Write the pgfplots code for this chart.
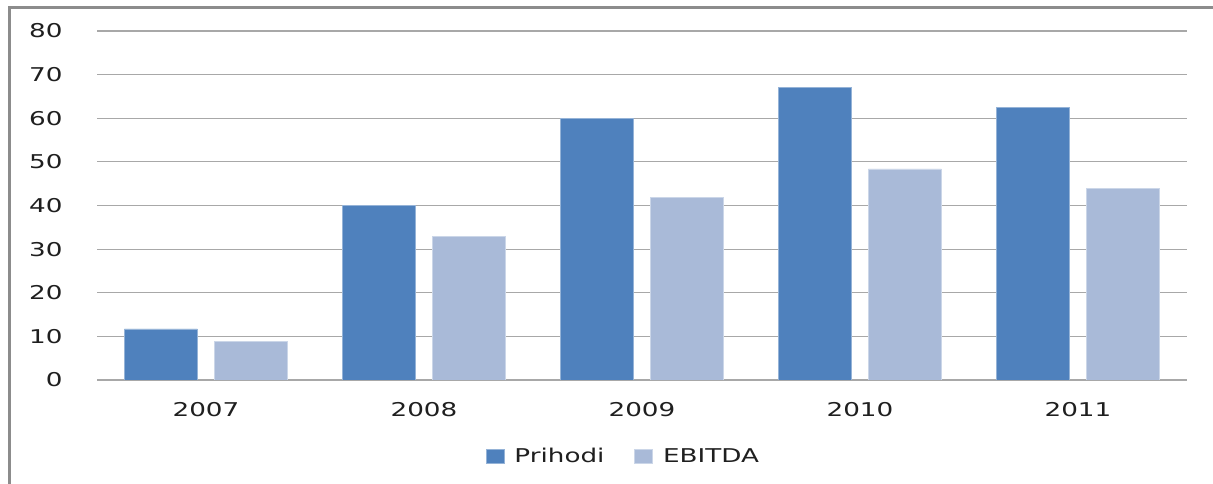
\documentclass[border=0pt]{standalone}
\usepackage{fontspec}
\setmainfont{DejaVu Sans}[FakeStretch=1.38]
\usepackage{pgfplots}
\pgfplotsset{compat=1.18}
\definecolor{prihodi}{HTML}{4F81BD}
\definecolor{ebitda}{HTML}{A9BAD8}
\definecolor{gridgray}{HTML}{A8A8A8}
\definecolor{framegray}{HTML}{8C8C8C}
\definecolor{txt}{HTML}{1F1F1F}
\begin{document}
\begin{tikzpicture}[x=1pt,y=1pt]
\useasboundingbox (0,0) rectangle (1213,484);
\fill[white] (0,0) rectangle (1213,484);
\draw[framegray, line width=2.5pt] (9.5,-20) -- (9.5,476.5) -- (1240,476.5);
\begin{axis}[
  at={(97pt,104pt)}, anchor=south west,
  scale only axis, width=1090pt, height=349pt,
  ymin=0, ymax=80, xmin=-0.5, xmax=4.5,
  ytick={0,10,...,80},
  xtick=data, xticklabels={2007,2008,2009,2010,2011},
  ybar=17pt, bar width=73pt,
  axis x line*=bottom, axis y line*=left,
  x axis line style={gridgray, line width=1.2pt, -},
  y axis line style={draw=none},
  ymajorgrids, grid style={gridgray, line width=1.2pt},
  major tick length=0pt,
  tick label style={font=\fontsize{19}{22}\selectfont, text=txt},
  /pgf/number format/assume math mode=true,
  yticklabel style={anchor=east, xshift=-31pt},
  xticklabel style={anchor=base, yshift=-37pt},
  legend style={at={(0.483,-0.218)}, anchor=center, draw=none, fill=none,
    legend columns=2, font=\fontsize{19}{22}\selectfont, text=txt,
    /tikz/every odd column/.append style={column sep=8pt},
    /tikz/every even column/.append style={column sep=28pt},
    legend cell align=left},
  legend image code/.code={\fill[#1] (0pt,-7pt) rectangle (18pt,7pt);},
]
\addplot[fill=prihodi, draw=prihodi!60!white, line width=0.6pt] coordinates {(0,11.7) (1,40) (2,60) (3,67) (4,62.5)};
\addplot[fill=ebitda, draw=ebitda!60!white, line width=0.6pt] coordinates {(0,8.8) (1,32.9) (2,41.8) (3,48.4) (4,44.0)};
\legend{Prihodi, EBITDA}
\end{axis}
\end{tikzpicture}
\end{document}
